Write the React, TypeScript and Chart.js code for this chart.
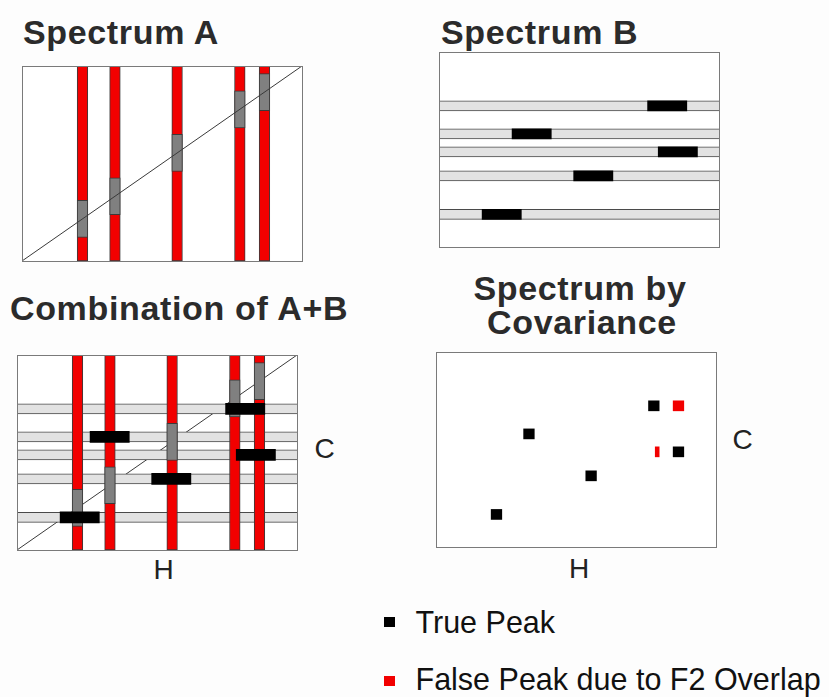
import { useEffect, useRef } from "react";
import { Chart, registerables } from "chart.js";

Chart.register(...registerables);

// Proton (H) shifts of the peaks in spectrum A, on a 0–100 scale
const H_SHIFTS = [21.6, 33.2, 55.4, 77.8, 86.6];
// Carbon (C) shifts of the rows in spectrum B, on a 0–100 scale
const C_SHIFTS = [72.4, 58, 48.8, 36.5, 16.7];
// H position of the correlation carried by each C row of spectrum B
const B_CROSS_H = [81.5, 33.1, 85.3, 55.1, 22.4];
// Peaks recovered by covariance
const TRUE_PEAK_H = [77.8, 33.2, 86.6, 55.4, 21.6];
const TRUE_PEAK_C = [72.4, 58, 48.8, 36.5, 16.7];
const FALSE_PEAK_H = [86.6, 77.8];
const FALSE_PEAK_C = [72.4, 48.8];

// Half widths in axis units
const RED_HALF = 1.9;
const SEG_HALF = 7;
const DIAG_HALF = 9.5;

const BOX_W = 280;
const BOX_H = 195;
const PAD = 2;

const RED = "#f20000";
const EDGE = "#3a3a3a";
const GRAY = "#808080";
const ROW_FILL = "#e2e2e2";
const FRAME = "#7a7a7a";

type Kind = "A" | "B" | "C" | "D";

function overlap(h: number, c: number): [number, number] {
  const row = C_SHIFTS.indexOf(c);
  const b = B_CROSS_H[row];
  return [Math.max(h - RED_HALF, b - SEG_HALF), Math.min(h + RED_HALF, b + SEG_HALF)];
}

const diagonal = (order: number) => ({
  type: "line" as const,
  data: [
    { x: 0, y: 0 },
    { x: 100, y: 100 },
  ],
  borderColor: "#3a3a3a",
  borderWidth: 1,
  pointRadius: 0,
  order,
});

const barBase = { type: "bar" as const, grouped: false, borderSkipped: false as const };

const rows = (order: number) => ({
  ...barBase,
  indexAxis: "y" as const,
  data: C_SHIFTS.map((c) => ({ y: c, x: [0, 100] })),
  backgroundColor: ROW_FILL,
  borderColor: "#4a4a4a",
  borderWidth: { top: 1, bottom: 1, left: 0, right: 0 },
  barThickness: 10,
  order,
});

const redBars = (order: number) => ({
  ...barBase,
  data: H_SHIFTS.map((h) => ({ x: h, y: [0, 100] })),
  backgroundColor: RED,
  borderColor: EDGE,
  borderWidth: 1,
  barThickness: 10.6,
  order,
});

const graySegments = (order: number) => ({
  ...barBase,
  data: H_SHIFTS.map((h) => ({ x: h, y: [h - DIAG_HALF, h + DIAG_HALF] })),
  backgroundColor: GRAY,
  borderColor: EDGE,
  borderWidth: 1,
  barThickness: 10.6,
  order,
});

const blackSegments = (order: number, thickness: number) => ({
  ...barBase,
  indexAxis: "y" as const,
  data: C_SHIFTS.map((c, i) => ({ y: c, x: [B_CROSS_H[i] - SEG_HALF, B_CROSS_H[i] + SEG_HALF] })),
  backgroundColor: "#000",
  borderWidth: 0,
  barThickness: thickness,
  order,
});

const peaks = (hs: number[], cs: number[], color: string, order: number) => ({
  ...barBase,
  indexAxis: "y" as const,
  data: hs.map((h, i) => ({ y: cs[i], x: overlap(h, cs[i]) })),
  backgroundColor: color,
  borderWidth: 0,
  barThickness: 10,
  order,
});

function datasetsFor(kind: Kind): any[] {
  switch (kind) {
    case "A":
      return [diagonal(0), graySegments(1), redBars(2)];
    case "B":
      return [blackSegments(0, 10), rows(1)];
    case "C":
      return [blackSegments(0, 11), graySegments(1), redBars(2), rows(3), diagonal(4)];
    default:
      return [
        peaks(TRUE_PEAK_H, TRUE_PEAK_C, "#000", 0),
        peaks(FALSE_PEAK_H, FALSE_PEAK_C, RED, 1),
      ];
  }
}

const framePlugin = {
  id: "frame",
  beforeDraw(chart: any) {
    const { ctx, chartArea: a } = chart;
    ctx.save();
    ctx.fillStyle = "#ffffff";
    ctx.fillRect(a.left, a.top, a.right - a.left, a.bottom - a.top);
    ctx.restore();
  },
  afterDraw(chart: any) {
    const { ctx, chartArea: a } = chart;
    ctx.save();
    ctx.strokeStyle = FRAME;
    ctx.lineWidth = 1;
    ctx.strokeRect(a.left + 0.5, a.top + 0.5, a.right - a.left, a.bottom - a.top);
    ctx.restore();
  },
};

function Panel({ left, top, kind }: { left: number; top: number; kind: Kind }) {
  const ref = useRef<HTMLCanvasElement>(null);
  useEffect(() => {
    const chart = new Chart(ref.current as HTMLCanvasElement, {
      type: "bar",
      data: { datasets: datasetsFor(kind) },
      options: {
        responsive: false,
        animation: false,
        events: [],
        layout: { padding: PAD },
        plugins: { legend: { display: false }, tooltip: { enabled: false } },
        scales: {
          x: { type: "linear", min: 0, max: 100, display: false, offset: false },
          y: { type: "linear", min: 0, max: 100, display: false, offset: false },
        },
      } as any,
      plugins: [framePlugin],
    });
    return () => chart.destroy();
  }, [kind]);
  return (
    <canvas
      ref={ref}
      width={BOX_W + PAD * 2}
      height={BOX_H + PAD * 2}
      style={{ position: "absolute", left: left - PAD, top: top - PAD, width: BOX_W + PAD * 2, height: BOX_H + PAD * 2 }}
    />
  );
}

const SANS = '"Liberation Sans", Arial, Helvetica, sans-serif';

function Title({ text, left, top, width, center }: { text: string; left: number; top: number; width?: number; center?: boolean }) {
  return (
    <div
      style={{
        position: "absolute",
        left,
        top,
        width,
        textAlign: center ? "center" : "left",
        fontFamily: SANS,
        fontWeight: 700,
        fontSize: 34,
        lineHeight: "34px",
        letterSpacing: "0.65px",
        color: "#2b2b2b",
        whiteSpace: "nowrap",
      }}
    >
      {text}
    </div>
  );
}

function AxisLetter({ text, cx, cy }: { text: string; cx: number; cy: number }) {
  return (
    <div
      style={{
        position: "absolute",
        left: cx - 20,
        top: cy - 13.8,
        width: 40,
        textAlign: "center",
        fontFamily: SANS,
        fontSize: 28,
        lineHeight: "28px",
        color: "#222",
      }}
    >
      {text}
    </div>
  );
}

function LegendItem({ color, text, markerTop, textTop }: { color: string; text: string; markerTop: number; textTop: number }) {
  return (
    <>
      <div style={{ position: "absolute", left: 384, top: markerTop, width: 11, height: 10, background: color }} />
      <div
        style={{
          position: "absolute",
          left: 415.5,
          top: textTop,
          fontFamily: SANS,
          fontSize: 30.5,
          lineHeight: "30.5px",
          color: "#111",
          whiteSpace: "nowrap",
        }}
      >
        {text}
      </div>
    </>
  );
}

export default function App() {
  return (
    <div
      style={{
        position: "fixed",
        left: 0,
        top: 0,
        width: 829,
        height: 697,
        background: "#fdfdfd",
        overflow: "hidden",
      }}
    >
      <Title text="Spectrum A" left={23} top={14.5} />
      <Title text="Spectrum B" left={441} top={14.5} />
      <Title text="Combination of A+B" left={10} top={290.5} />
      <Title text="Spectrum by" left={430} top={270.5} width={300} center />
      <Title text="Covariance" left={432} top={305.2} width={300} center />

      <Panel left={22} top={66} kind="A" />
      <Panel left={439} top={52} kind="B" />
      <Panel left={17} top={355} kind="C" />
      <Panel left={436} top={352} kind="D" />

      <AxisLetter text="C" cx={324.5} cy={449} />
      <AxisLetter text="H" cx={163.5} cy={570} />
      <AxisLetter text="C" cx={742.5} cy={440} />
      <AxisLetter text="H" cx={579} cy={569} />

      <LegendItem color="#000" text="True Peak" markerTop={616.5} textTop={607.2} />
      <LegendItem color={RED} text="False Peak due to F2 Overlap" markerTop={676} textTop={664.2} />
    </div>
  );
}
